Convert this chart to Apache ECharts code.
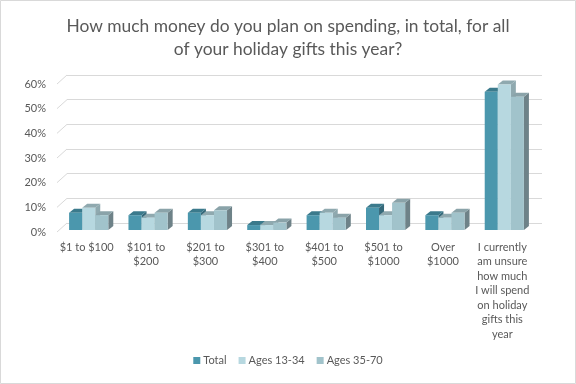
<!DOCTYPE html>
<html><head><meta charset="utf-8">
<script src="https://cdn.jsdelivr.net/npm/echarts@6/dist/echarts.min.js"></script>
<style>html,body{margin:0;padding:0;background:#fff}#c{width:576px;height:384px}</style>
</head><body><div id="c"></div>
<script>
const categories = ["$1 to $100","$101 to\n$200","$201 to\n$300","$301 to\n$400","$401 to\n$500","$501 to\n$1000","Over\n$1000","I currently\nam unsure\nhow much\nI will spend\non holiday\ngifts this\nyear"];
const seriesNames = ["Total","Ages 13-34","Ages 35-70"];
const total = [7, 6, 7, 2, 6, 9, 6, 56];
const ages13_34 = [9, 5, 6, 2, 7, 6, 5, 59];
const ages35_70 = [6, 7, 8, 3, 5, 11, 7, 54];
const yTicks = [0, 10, 20, 30, 40, 50, 60];

const palette = [
  {front:'#4B97AD', top:'#3B7A8C', side:'#35697A'},
  {front:'#B7D8E0', top:'#8FA9AF', side:'#8FA9AF'},
  {front:'#A1C3CB', top:'#8AA3A9', side:'#6E8288'}
];
const DX = 5, DY = 4;
function render(si){
  return function(params, api){
    const c = api.value(0), v = api.value(1);
    const base = api.coord([c, 0]);
    const topP = api.coord([c, v]);
    const band = api.size([1, 0])[0];
    const bw = band * 0.22;
    const x0 = base[0] + 2 - 1.5 * bw + si * bw;
    const x1 = x0 + bw;
    const yb = base[1] - 2, yt = topP[1] - 2;
    const col = palette[si];
    return {type:'group', children:[
      {type:'polygon', shape:{points:[[x1,yt],[x1+DX,yt-DY],[x1+DX,yb-DY],[x1,yb]]}, style:{fill:col.side}},
      {type:'polygon', shape:{points:[[x0,yt],[x0+DX,yt-DY],[x1+DX,yt-DY],[x1,yt]]}, style:{fill:col.top}},
      {type:'rect', shape:{x:x0, y:yt, width:bw, height:yb-yt}, style:{fill:col.front}}
    ]};
  };
}
const dataSets = [total, ages13_34, ages35_70];
const font = 'Lato, "Open Sans", sans-serif';
const chart = echarts.init(document.getElementById('c'), null, {renderer:'canvas'});
const series = dataSets.map((d, si) => ({
  type:'custom', name: seriesNames[si], xAxisIndex:0, yAxisIndex:0,
  itemStyle:{color: palette[si].front},
  renderItem: render(si),
  data: d.map((v, i) => [i, v]),
  z: 3
}));
series.push({
  type:'custom', xAxisIndex:0, yAxisIndex:0, silent:true, z:1,
  renderItem: function(params, api){
    const p = api.coord([0, api.value(0)]);
    const x = params.coordSys.x;
    return {type:'line', shape:{x1:x, y1:p[1], x2:x+10, y2:p[1]-9}, style:{stroke:'#D9D9D9', lineWidth:1}};
  },
  data: yTicks.map(t => [t])
});
chart.setOption({
  backgroundColor:'#fff',
  animation:false,
  title:{text:'How much money do you plan on spending, in total, for all\nof your holiday gifts this year?', left:'center', top:10,
    textStyle:{fontFamily:font, fontSize:17.4, fontWeight:'normal', color:'#595959', lineHeight:23}},
  legend:{bottom:13, left:'center', itemWidth:7, itemHeight:7, itemGap:12, icon:'rect',
    textStyle:{fontFamily:font, fontSize:11, color:'#595959', padding:[0,0,0,-2]}, data: seriesNames},
  grid:[
    {left:57, right:44, top:84, bottom:152},
    {left:67, right:34, top:75, bottom:161}
  ],
  xAxis:[
    {type:'category', gridIndex:0, data:categories, axisLine:{show:false}, axisTick:{show:false},
      axisLabel:{interval:0, fontFamily:font, fontSize:11, color:'#595959', lineHeight:14.5, margin:8}},
    {type:'category', gridIndex:1, data:categories, show:false}
  ],
  yAxis:[
    {type:'value', gridIndex:0, min:0, max:60, interval:10, splitLine:{show:false},
      axisLabel:{formatter:'{value}%', fontFamily:font, fontSize:11, color:'#595959', margin:11}},
    {type:'value', gridIndex:1, min:0, max:60, interval:10, axisLabel:{show:false},
      splitLine:{lineStyle:{color:'#D9D9D9'}}}
  ],
  graphic:[{type:'rect', shape:{x:0.5, y:0.5, width:575, height:383}, style:{fill:'none', stroke:'#D9D9D9', lineWidth:1}, silent:true}],
  series: series
});
</script></body></html>
